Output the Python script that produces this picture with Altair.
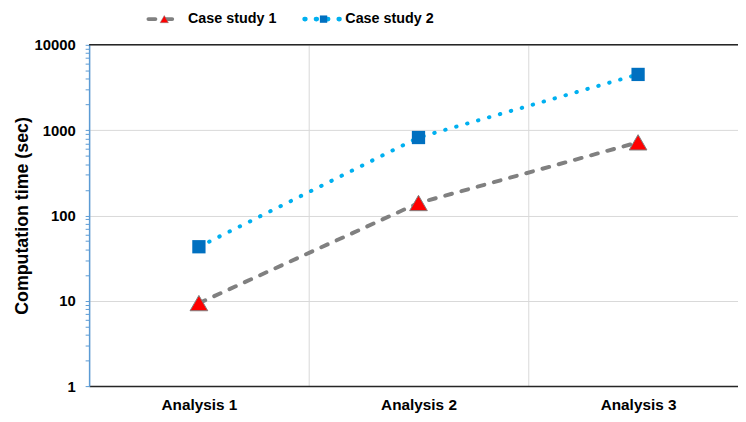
import altair as alt
import pandas as pd
import json

categories = ["Analysis 1", "Analysis 2", "Analysis 3"]
series_names = ["Case study 1", "Case study 2"]
case1 = [9.4, 140, 720]
case2 = [43, 820, 4500]

rows = []
for s, vals in zip(series_names, [case1, case2]):
    for i, (c, v) in enumerate(zip(categories, vals)):
        rows.append({"analysis": c, "idx": i, "series": s, "time": v})
df = pd.DataFrame(rows)

tick_vals = [m * d for d in [1, 10, 100, 1000] for m in range(1, 10)] + [10000]
x_vals = [-0.5, 0, 0.5, 1, 1.5, 2, 2.5]

FONT = "Liberation Sans"
GRID = "#D9D9D9"
AXBLUE = "#5B9BD5"
cat_js = json.dumps(categories)

x_enc = alt.X(
    "idx:Q",
    scale=alt.Scale(domain=[-0.5, 2.455], nice=False, zero=False),
    axis=alt.Axis(
        title=None, ticks=False, grid=True, values=x_vals, gridColor=GRID,
        gridOpacity={"condition": {"test": "datum.value % 1 != 0", "value": 1}, "value": 0},
        labelExpr=f"datum.value % 1 == 0 ? {cat_js}[datum.value] : ''",
        labelOverlap=False, labelFlush=False,
        domainColor="#262626", domainWidth=1.5, labelAngle=0,
        labelFont=FONT, labelFontSize=15.5, labelFontWeight="bold",
        labelColor="#000", labelPadding=12,
    ),
)
y_scale = alt.Scale(type="log", domain=[1, 10000], nice=False)
y_enc = alt.Y(
    "time:Q",
    scale=y_scale,
    axis=alt.Axis(
        title="Computation time (sec)", values=tick_vals, format="d",
        labelExpr="indexof([1,10,100,1000,10000], datum.value) >= 0 ? datum.label : ''",
        grid=True, gridColor=GRID,
        gridOpacity={"condition": {"test": "indexof([10,100,1000], datum.value) >= 0", "value": 1}, "value": 0},
        domainColor=AXBLUE, domainWidth=1.5, tickColor=AXBLUE, tickSize=4,
        labelFont=FONT, labelFontSize=15, labelFontWeight="bold", labelColor="#000",
        labelPadding=10, titleFont=FONT, titleFontSize=18, titleFontWeight="bold",
        titleColor="#000", titlePadding=3,
    ),
)

color_scale = alt.Scale(domain=series_names, range=["#808080", "#00B0F0"])
dash_scale = alt.Scale(domain=series_names, range=[[7, 10], [0.5, 11]])

base = alt.Chart(df)

lines = base.mark_line(strokeWidth=4, strokeCap="round").encode(
    x=x_enc, y=y_enc,
    color=alt.Color("series:N", scale=color_scale, legend=None),
    strokeDash=alt.StrokeDash("series:N", scale=dash_scale, legend=None),
    detail="series:N",
    order="idx:Q",
)

tri = base.transform_filter(alt.datum.series == series_names[0]).mark_point(
    shape="triangle-up", filled=True, size=320, color="#FF0000",
    stroke="#808080", strokeWidth=1, opacity=1,
).encode(x=x_enc, y=y_enc)

sq = base.transform_filter(alt.datum.series == series_names[1]).mark_point(
    shape="square", filled=True, size=180, color="#0070C0", opacity=1,
).encode(x=x_enc, y=y_enc)

top_border = alt.Chart(pd.DataFrame({"v": [10000]})).mark_rule(
    color="#262626", strokeWidth=1.5
).encode(y=alt.Y("v:Q", scale=y_scale))

# Legend (decorative, placed above the plot)
leg_df = pd.DataFrame({"series": series_names})
LY = -26
leg1_line = alt.Chart(leg_df).transform_filter(alt.datum.series == series_names[0]).mark_rule(
    color="#808080", strokeWidth=4, strokeDash=[7, 10], strokeCap="round"
).encode(x=alt.value(60), x2=alt.value(93), y=alt.value(LY))
leg1_pt = alt.Chart(leg_df).transform_filter(alt.datum.series == series_names[0]).mark_point(
    shape="triangle-up", filled=True, size=70, color="#FF0000", stroke="#808080",
    strokeWidth=0.5, opacity=1
).encode(x=alt.value(76), y=alt.value(LY))
leg2_line = alt.Chart(leg_df).transform_filter(alt.datum.series == series_names[1]).mark_rule(
    color="#00B0F0", strokeWidth=5, strokeDash=[0.5, 11], strokeCap="round"
).encode(x=alt.value(218), x2=alt.value(258), y=alt.value(LY))
leg2_pt = alt.Chart(leg_df).transform_filter(alt.datum.series == series_names[1]).mark_point(
    shape="square", filled=True, size=55, color="#0070C0", opacity=1
).encode(x=alt.value(237), y=alt.value(LY))
leg_text1 = alt.Chart(leg_df).transform_filter(alt.datum.series == series_names[0]).mark_text(
    align="left", baseline="middle", font=FONT, fontSize=14.5, fontWeight="bold", color="#000"
).encode(x=alt.value(100), y=alt.value(LY), text="series:N")
leg_text2 = alt.Chart(leg_df).transform_filter(alt.datum.series == series_names[1]).mark_text(
    align="left", baseline="middle", font=FONT, fontSize=14.5, fontWeight="bold", color="#000"
).encode(x=alt.value(259), y=alt.value(LY), text="series:N")

chart = alt.layer(
    lines, tri, sq, top_border,
    leg1_line, leg2_line, leg1_pt, leg2_pt, leg_text1, leg_text2,
).properties(
    width=656, height=345,
    autosize=alt.AutoSizeParams(type="none"),
    padding={"left": 82, "top": 35, "right": 0, "bottom": 30},
).configure_view(stroke=None).configure(background="#FFFFFF")

chart.save("out.html", embed_options={"renderer": "svg", "actions": False})
